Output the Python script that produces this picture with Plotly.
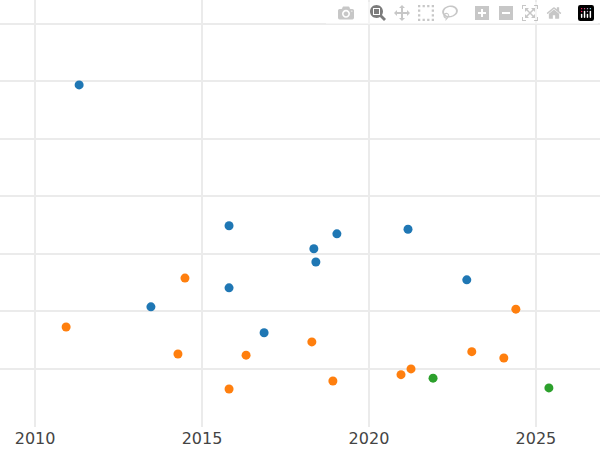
import plotly.graph_objects as go

blue_x = [2011.32, 2015.81, 2018.35, 2019.04, 2021.17, 2018.41, 2015.81, 2013.47, 2022.93, 2016.86]
blue_y = [4.94, 2.49, 2.09, 2.35, 2.43, 1.86, 1.41, 1.08, 1.55, 0.63]
orange_x = [2010.93, 2014.49, 2014.28, 2016.32, 2015.81, 2018.29, 2018.92, 2020.96, 2021.26, 2023.08, 2024.04, 2024.40]
orange_y = [0.73, 1.58, 0.26, 0.24, -0.35, 0.47, -0.21, -0.10, 0.00, 0.30, 0.19, 1.04]
green_x = [2021.92, 2025.39]
green_y = [-0.16, -0.33]

fig = go.Figure()
for xs, ys, c in [(blue_x, blue_y, "#1f77b4"), (orange_x, orange_y, "#ff7f0e"), (green_x, green_y, "#2ca02c")]:
    fig.add_trace(go.Scatter(x=xs, y=ys, mode="markers", marker=dict(color=c, size=9), showlegend=False))

fig.update_layout(
    width=600, height=450, margin=dict(l=0, r=0, t=0, b=23),
    plot_bgcolor="white", paper_bgcolor="white",
    font=dict(family="DejaVu Sans", size=16, color="#444"),
)
fig.update_xaxes(range=[2008.95, 2026.92], tickvals=[2010, 2015, 2020, 2025],
                 showgrid=True, gridcolor="#ebebeb", gridwidth=2, zeroline=False, ticks="")
fig.update_yaxes(range=[-1.01, 6.417], dtick=1, tick0=0, showticklabels=False,
                 showgrid=True, gridcolor="#ebebeb", gridwidth=1.5, zeroline=False)
fig.write_html("out.html")

with open("out.html", encoding="utf-8") as f:
    html = f.read()
html = html.replace("<body>", '<body style="margin:0;overflow:hidden">', 1)
with open("out.html", "w", encoding="utf-8") as f:
    f.write(html)
